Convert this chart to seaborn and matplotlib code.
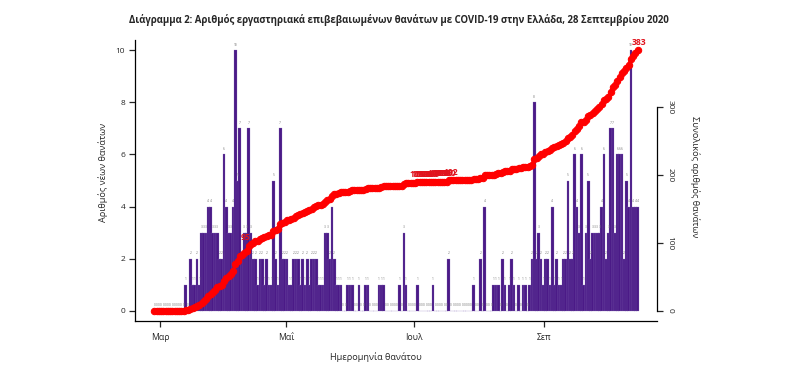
import numpy as np
import pandas as pd
import matplotlib
matplotlib.use("Agg")
import matplotlib.pyplot as plt
import seaborn as sns

# ---------------- data ----------------
dates = pd.date_range("2020-02-26", "2020-09-28", freq="D")
new_deaths = (
    [0] * 14
    + [1, 0, 2, 1, 1, 2, 1, 3, 3, 3]
    + [4, 4, 3, 3, 3, 2, 2, 6, 4, 3]
    + [3, 4, 10, 5, 7, 2, 3, 3, 7]
    + [3, 2, 2, 1, 2, 2, 1, 2, 1, 1, 5]
    + [2, 1, 7, 2, 2, 2, 1, 1, 2, 2, 2, 1]
    + [2, 1, 2, 1, 2, 2, 2, 1, 1, 1, 3, 3, 2, 4, 2]
    + [1, 1, 1, 0, 0, 1, 1, 1, 0, 0, 1, 0, 0, 1, 1]
    + [0, 0, 0, 0, 1, 1, 1, 0, 0, 0, 0, 0, 0, 1, 0]
    + [3, 1, 0, 0, 0, 0, 1, 0, 0, 0, 0, 0, 0, 1, 0, 0, 0, 0, 0, 0, 2,
       0, 0, 0, 0, 0, 0, 0, 0, 0, 0]
    + [1, 0, 0, 2, 0, 4, 0, 0, 0, 1, 1, 1, 0, 2, 1]
    + [0, 1, 2, 1, 0, 1, 0, 1, 1, 0, 1, 2, 8, 2]
    + [3, 2, 1, 2, 2, 1, 4, 1, 2, 1, 1, 2]
    + [2, 5, 2, 2, 6, 4, 3]
    + [6, 1, 3, 5, 2, 3, 3]
    + [3, 3, 4, 6, 2, 3, 7, 7, 3, 6, 6, 6, 2, 5, 4, 10, 4, 4, 4]
)
month_labels = ["Μαρ", "Μαΐ", "Ιουλ", "Σεπ"]
labelled_days = [42] + list(range(116, 132)) + [215]

title = ("Διάγραμμα 2: Αριθμός εργαστηριακά επιβεβαιωμένων θανάτων "
         "με COVID-19 στην Ελλάδα, 28 Σεπτεμβρίου 2020")
xlabel = "Ημερομηνία θανάτου"
ylabel_left = "Αριθμός νέων θανάτων"
ylabel_right = "Συνολικός αριθμός θανάτων"

df = pd.DataFrame({"date": dates[:len(new_deaths)], "new": new_deaths})
df["day"] = np.arange(len(df))
df["cum"] = df["new"].cumsum()

# ---------------- style ----------------
sns.set_style("white")
plt.rcParams["font.family"] = ["Open Sans", "DejaVu Sans"]

PURPLE = "#4b1a87"
RED = "#ff0000"

fig = plt.figure(figsize=(7.95, 3.74), dpi=100)
ax = fig.add_axes([135 / 795, 1 - 321 / 374, (657 - 135) / 795, (321 - 40) / 374])

sns.barplot(data=df, x="day", y="new", native_scale=True, width=1.2,
            color=PURPLE, saturation=1, errorbar=None, ax=ax,
            edgecolor="#8a72bb", linewidth=0.18)

# small value labels above each bar
for d, v in zip(df["day"], df["new"]):
    ax.text(d, v + 0.22, str(v), fontsize=2.3, color="#777777",
            ha="center", va="center", zorder=1)

n = len(df)
ax.set_xlim(-0.04 * (n - 1), (n - 1) * 1.04)
ax.set_ylim(-0.4, 10.4)

ax2 = ax.twinx()
sns.lineplot(data=df, x="day", y="cum", ax=ax2, color=RED, linewidth=2.4,
             marker="o", markersize=4.6, markeredgecolor=RED,
             markerfacecolor=RED, zorder=3)
cmax = df["cum"].max()
ax2.set_ylim(-0.04 * cmax, cmax * 1.04)
ax2.set_xlim(ax.get_xlim())

for d in labelled_days:
    c = df["cum"].iloc[d]
    dx = -1.5 if d == 42 else 0.8
    ax2.text(d + dx, c + 12, str(c), color="#e0141e", fontsize=6.2,
             fontweight="bold", ha="center", va="center", zorder=4)

# ---------------- axes cosmetics ----------------
for a in (ax, ax2):
    a.spines["top"].set_visible(False)
    for s in a.spines.values():
        s.set_color("black")
        s.set_linewidth(0.9)

ax.spines["right"].set_visible(False)
ax2.spines["left"].set_visible(False)
ax2.spines["bottom"].set_visible(False)
ax2.spines["right"].set_visible(True)
ax2.spines["right"].set_bounds(0, 300)

ax.set_yticks([0, 2, 4, 6, 8, 10])
ax.tick_params(axis="y", direction="out", length=4, width=0.9, pad=3,
               labelsize=6, left=True)
ax.set_xticks([2.5, 58.5, 115.5, 173.5])
ax.set_xticklabels(month_labels)
ax.tick_params(axis="x", direction="out", length=4, width=0.9, pad=5,
               labelsize=6.2, bottom=True)

ax2.set_yticks([0, 100, 200, 300])
ax2.tick_params(axis="y", direction="out", length=4, width=0.9, pad=3,
                labelsize=6, right=True)
for lab in ax2.get_yticklabels():
    lab.set_rotation(-90)
    lab.set_va("center")

ax.set_xlabel("")
ax.set_ylabel("")
ax2.set_ylabel("")
ax.grid(False)
ax2.grid(False)

fig.text(376 / 795, 1 - 357 / 374, xlabel, fontsize=6.6, ha="center", va="center")
fig.text(103 / 795, 1 - 172 / 374, ylabel_left, fontsize=6.6, rotation=90,
         ha="center", va="center")
fig.text(695 / 795, 1 - 177 / 374, ylabel_right, fontsize=6.6, rotation=-90,
         ha="center", va="center")
fig.text(399 / 795, 1 - 20 / 374, title, fontsize=6.9, fontweight="bold",
         ha="center", va="center")

fig.savefig("out.png", dpi=100, facecolor="white")
